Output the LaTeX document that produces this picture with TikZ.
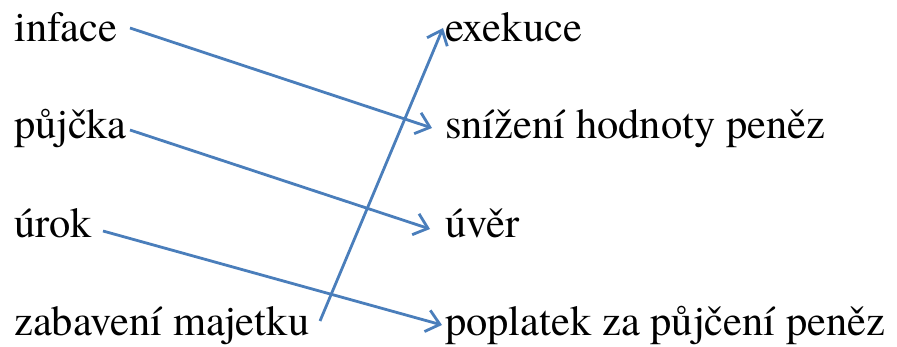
\documentclass[tikz,border=0pt]{standalone}
\usepackage{fontspec}
\setmainfont{texgyretermes-regular.otf}
\usetikzlibrary{arrows.meta}
\definecolor{linkblue}{HTML}{4A7EBB}
\tikzset{
  word/.style={anchor=base west,inner sep=0pt,font=\fontsize{42.5}{50}\selectfont},
  link/.style={draw=linkblue,line width=2.8pt,-{Straight Barb[length=13pt,width=22pt,line width=2.8pt]}}
}
\begin{document}
\begin{tikzpicture}[x=1pt,y=-1pt]
\useasboundingbox (0,0) rectangle (897,347);
\node[word] (l1) at (14,42) {inface};
\node[word] (l2) at (14,139) {půjčka};
\node[word] (l3) at (14,238) {úrok};
\node[word] (l4) at (14,336) {zabavení majetku};
\node[word] (r1) at (445,42) {exekuce};
\node[word] (r2) at (445,139) {snížení hodnoty peněz};
\node[word] (r3) at (445,238) {úvěr};
\node[word] (r4) at (445,336) {poplatek za půjčení peněz};
\coordinate (s1) at (130,28);
\coordinate (e1) at (432,128);
\coordinate (s2) at (130,130);
\coordinate (e2) at (430,229);
\coordinate (s3) at (103,231);
\coordinate (e3) at (442,325);
\coordinate (s4) at (320,321);
\coordinate (e4) at (443,28);
\draw[link] (s1) -- (e1);
\draw[link] (s2) -- (e2);
\draw[link] (s3) -- (e3);
\draw[link] (s4) -- (e4);
\end{tikzpicture}
\end{document}
